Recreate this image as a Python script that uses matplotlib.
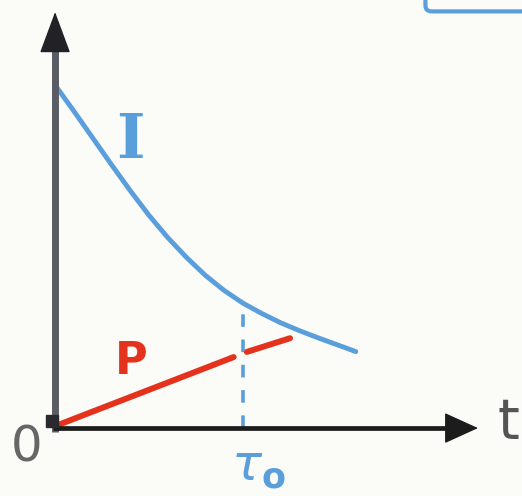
import matplotlib
matplotlib.use("Agg")
import matplotlib.pyplot as plt
from matplotlib.patches import FancyBboxPatch

# Current I(t) sketched as a decaying curve (t in units of tau0)
t_I = [0.0, 0.1, 0.2, 0.3, 0.4, 0.5, 0.6, 0.7, 0.8, 0.9, 1.0,
       1.1, 1.2, 1.3, 1.4, 1.5, 1.6]
I_vals = [1.0, 0.924, 0.846, 0.768, 0.692, 0.62, 0.555, 0.497, 0.445,
          0.401, 0.364, 0.334, 0.307, 0.284, 0.263, 0.243, 0.223]

# Product P(t): a straight rise, drawn in two strokes around tau0
t_P1 = [0.02, 0.95]
P_vals1 = [0.01, 0.207]
t_P2 = [1.02, 1.25]
P_vals2 = [0.222, 0.262]

tau0 = 1.0
tau_label = r"$\tau_{\mathbf{o}}$"

fig = plt.figure(figsize=(5.22, 4.96), dpi=100)
fig.patch.set_facecolor("#fbfbf8")
ax = fig.add_axes([0, 0, 1, 1])
ax.set_facecolor("#fbfbf8")
ax.set_xlim(-0.293, 2.484)
ax.set_ylim(-0.198, 1.248)
ax.axis("off")

blue = "#5a9fdc"
red = "#e4321d"

# Vertical axis: grey shaft with a dark arrowhead
ax.plot([0, 0], [-0.01, 1.12], color="#5a5d63", lw=5.0,
        solid_capstyle="butt", zorder=5)
ax.annotate("", xy=(0, 1.213), xytext=(0, 1.12),
            arrowprops=dict(arrowstyle="-|>,head_length=1.35,head_width=0.5",
                            lw=1.0, color="#222226", mutation_scale=20,
                            shrinkA=0, shrinkB=0), zorder=6)
# Corner block at the origin
ax.plot([-0.015], [0.02], marker="s", ms=8, color="#2a2a2e", zorder=6)

# Horizontal axis
ax.plot([-0.01, 2.12], [0, 0], color="#1c1c1c", lw=3.4,
        solid_capstyle="butt", zorder=5)
ax.annotate("", xy=(2.25, 0.0), xytext=(2.10, 0.0),
            arrowprops=dict(arrowstyle="-|>,head_length=1.1,head_width=0.5",
                            lw=1.0, color="#1c1c1c", mutation_scale=20,
                            shrinkA=0, shrinkB=0), zorder=6)

# Dashed marker at tau0
ax.plot([tau0, tau0], [0.0, 0.37], color=blue, lw=2.6,
        ls=(0, (3.5, 3.5)), zorder=2)

# Curves
ax.plot(t_I, I_vals, color=blue, lw=3.5, solid_capstyle="round",
        solid_joinstyle="round", zorder=3)
ax.plot(t_P1, P_vals1, color=red, lw=4.3, solid_capstyle="round", zorder=4)
ax.plot(t_P2, P_vals2, color=red, lw=4.3, solid_capstyle="round", zorder=4)

# Labels
ax.text(0.40, 0.837, "I", color=blue, fontsize=44, family="DejaVu Serif",
        fontweight="bold", ha="center", va="center")
ax.text(0.404, 0.195, "P", color=red, fontsize=32, family="DejaVu Sans",
        fontweight="bold", ha="center", va="center")
ax.text(-0.149, -0.058, "0", color="#666666", fontsize=36, family="DejaVu Sans",
        ha="center", va="center")
ax.text(2.41, 0.015, "t", color="#555555", fontsize=40, family="DejaVu Sans",
        ha="center", va="center")
ax.text(tau0 + 0.08, -0.112, tau_label, color=blue, fontsize=36,
        ha="center", va="center")

# Partial frame at the top right edge
box = FancyBboxPatch((0.815, 0.977), 0.3, 0.1, transform=ax.transAxes,
                     boxstyle="round,pad=0,rounding_size=0.012",
                     fc="none", ec=blue, lw=3, clip_on=False)
ax.add_patch(box)

fig.savefig("out.png", dpi=100, facecolor=fig.get_facecolor())
